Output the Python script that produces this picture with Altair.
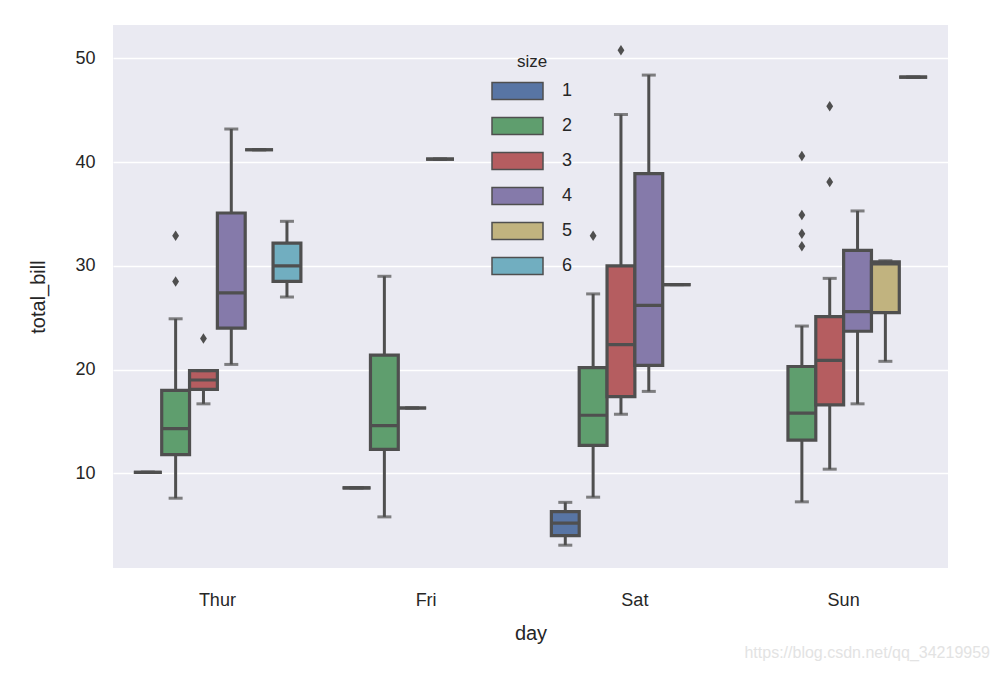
import altair as alt
import pandas as pd

days = ["Thur", "Fri", "Sat", "Sun"]
sizes = [1, 2, 3, 4, 5, 6]
palette = ["#5875A4", "#5F9E6E", "#B55D60", "#857AAA", "#C1B37F", "#71AEC0"]

# one entry per box (day, party size)
box_day = ["Thur", "Thur", "Thur", "Thur", "Thur", "Thur",
           "Fri", "Fri", "Fri", "Fri",
           "Sat", "Sat", "Sat", "Sat", "Sat",
           "Sun", "Sun", "Sun", "Sun", "Sun"]
box_size = [1, 2, 3, 4, 5, 6,
            1, 2, 3, 4,
            1, 2, 3, 4, 5,
            2, 3, 4, 5, 6]
whisker_low = [10.1, 7.6, 16.7, 20.5, 41.2, 27.0,
               8.6, 5.8, 16.3, 40.3,
               3.07, 7.7, 15.7, 17.9, 28.2,
               7.25, 10.4, 16.7, 20.8, 48.2]
q1 = [10.1, 11.8, 18.1, 24.0, 41.2, 28.5,
      8.6, 12.3, 16.3, 40.3,
      4.0, 12.7, 17.4, 20.4, 28.2,
      13.2, 16.6, 23.7, 25.5, 48.2]
median = [10.1, 14.3, 19.0, 27.4, 41.2, 30.0,
          8.6, 14.6, 16.3, 40.3,
          5.2, 15.6, 22.4, 26.2, 28.2,
          15.8, 20.9, 25.6, 30.2, 48.2]
q3 = [10.1, 18.0, 19.9, 35.1, 41.2, 32.2,
      8.6, 21.4, 16.3, 40.3,
      6.3, 20.2, 30.0, 38.9, 28.2,
      20.3, 25.1, 31.5, 30.4, 48.2]
whisker_high = [10.1, 24.9, 19.9, 43.2, 41.2, 34.3,
                8.6, 29.0, 16.3, 40.3,
                7.2, 27.3, 44.6, 48.4, 28.2,
                24.2, 28.8, 35.3, 30.5, 48.2]

# outliers
out_day = ["Thur", "Thur", "Thur", "Sat", "Sat",
           "Sun", "Sun", "Sun", "Sun", "Sun", "Sun"]
out_size = [2, 2, 3, 2, 3,
            2, 2, 2, 2, 3, 3]
out_value = [28.5, 32.9, 23.0, 32.9, 50.8,
             40.6, 34.9, 33.1, 31.9, 45.4, 38.1]

y_ticks = [10, 20, 30, 40, 50]

boxes = pd.DataFrame({
    "day": box_day, "size": box_size, "wlo": whisker_low, "q1": q1,
    "median": median, "q3": q3, "whi": whisker_high,
})
outliers = pd.DataFrame({"day": out_day, "size": out_size, "total_bill": out_value})

FONT = "Liberation Sans"
GRAY = "#4f4f4f"

x_enc = alt.X("day:N", sort=days, title="day",
              scale=alt.Scale(domain=days, paddingInner=0.2, paddingOuter=0.1))
xo_enc = alt.XOffset("size:O", scale=alt.Scale(domain=sizes, paddingInner=0, paddingOuter=0))
y_scale = alt.Scale(domain=[0.87, 53.23], nice=False, zero=False)

base = alt.Chart(boxes).encode(x=x_enc, xOffset=xo_enc)

whisk_lo = base.mark_rule(color=GRAY, strokeWidth=3).encode(
    y=alt.Y("wlo:Q", scale=y_scale, title="total_bill",
            axis=alt.Axis(values=y_ticks)),
    y2="q1:Q")
whisk_hi = base.mark_rule(color=GRAY, strokeWidth=3).encode(
    y=alt.Y("q3:Q", scale=y_scale), y2="whi:Q")

box = base.mark_bar(stroke=GRAY, strokeWidth=3.2, opacity=1).encode(
    y=alt.Y("q1:Q", scale=y_scale),
    y2="q3:Q",
    color=alt.Color("size:N", scale=alt.Scale(domain=sizes, range=palette),
                    legend=alt.Legend(
                        title="size", orient="none", legendX=378, legendY=29,
                        symbolType="M-1,-0.333H1V0.333H-1Z", symbolSize=2601,
                        symbolStrokeColor=GRAY, symbolStrokeWidth=1.5,
                        symbolOpacity=1, clipHeight=20, rowPadding=15,
                        labelOffset=18, labelFontSize=18, labelFont=FONT,
                        labelColor="#262626", titleFontSize=17, titleFont=FONT,
                        titleFontWeight="normal", titleColor="#262626",
                        titleAnchor="middle", titlePadding=10)),
)

med = base.mark_bar(stroke=GRAY, strokeWidth=3.2, fillOpacity=0).encode(
    y=alt.Y("median:Q", scale=y_scale), y2="median:Q")

cap_lo = base.mark_tick(color=GRAY, thickness=3, size=14).encode(
    y=alt.Y("wlo:Q", scale=y_scale))
cap_hi = base.mark_tick(color=GRAY, thickness=3, size=14).encode(
    y=alt.Y("whi:Q", scale=y_scale))

pts = alt.Chart(outliers).mark_point(
    shape="M0,-1L0.65,0L0,1L-0.65,0Z", filled=True, color=GRAY, size=110, opacity=1
).encode(x=x_enc, xOffset=xo_enc, y=alt.Y("total_bill:Q", scale=y_scale))

chart = alt.layer(whisk_lo, whisk_hi, box, med, cap_lo, cap_hi, pts).properties(
    width=835, height=543,
    autosize=alt.AutoSizeParams(type="none"),
    padding={"left": 105, "top": 17, "right": 44, "bottom": 100},
    title=alt.Title("https://blog.csdn.net/qq_34219959", orient="bottom",
                    anchor="end", dx=42, offset=2, fontSize=16,
                    font=FONT, fontWeight="normal", color="#e3e3e3"),
).configure_view(
    fill="#EAEAF2", stroke=None
).configure_axis(
    domain=False, ticks=False, labelFont=FONT, titleFont=FONT,
    labelColor="#262626", titleColor="#262626", labelFontSize=18,
    titleFontSize=20, titleFontWeight="normal", gridColor="white",
    gridWidth=1.6,
).configure_axisX(
    grid=False, labelAngle=0, labelPadding=23, titlePadding=14,
).configure_axisY(
    labelPadding=18, titlePadding=26,
)

chart.save("out.html", embed_options={"renderer": "svg", "actions": False})
